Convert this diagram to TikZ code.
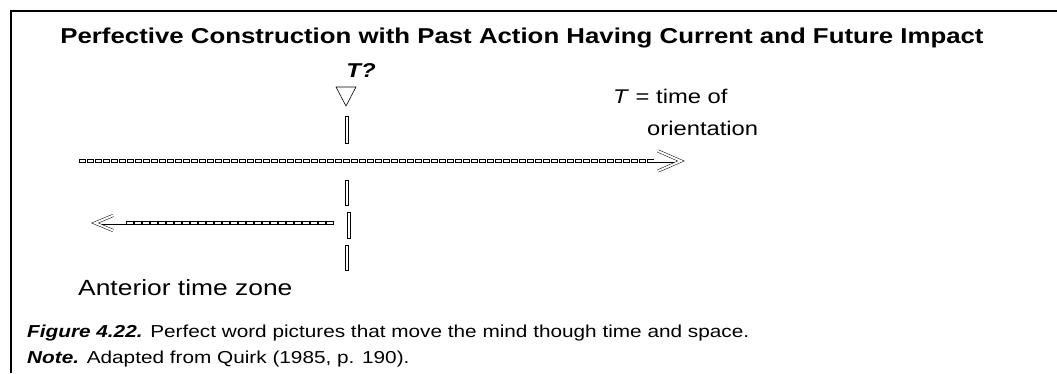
\documentclass[tikz,border=0pt]{standalone}
\usepackage{fontspec}
\setmainfont[FakeStretch=1.2]{Liberation Sans}
\usetikzlibrary{positioning,calc}

\tikzset{
  cell/.style={draw, line width=0.5pt},
  bar/.style={draw, line width=0.5pt, fill=white},
  stem/.style={double, double distance=2pt, line width=0.5pt},
  chevron/.style={double, double distance=2pt, line width=0.5pt, line join=miter},
}

\begin{document}
\begin{tikzpicture}[x=1pt, y=-1pt]
    \useasboundingbox (0,0) rectangle (1057,373);
    % frame
    \draw[line width=1.5pt] (11,373) -- (11,11) -- (1057,11);

    % title
    \node[font=\fontsize{21.5}{25}\selectfont\bfseries, anchor=base, inner sep=0pt] (title) at (522,43) {Perfective Construction with Past Action Having Current and Future Impact};
    \node[font=\fontsize{20}{24}\selectfont\bfseries\itshape, anchor=base, inner sep=0pt] (tq) at (361,77) {T?};
    \draw[line width=0.6pt] (336,87) -- (356,87) -- (346,106) -- cycle;

    % legend
    \node[font=\fontsize{19.8}{23}\selectfont, anchor=base west, inner sep=0pt] (tdef) at (613,103) {\textit{T} = time of};
    \node[font=\fontsize{19.8}{23}\selectfont, anchor=base west, inner sep=0pt] (orient) at (647,135) {orientation};

    % time of orientation
    \foreach \x/\ya/\yb in {347/116/143, 347/180/205, 349/212/238, 347/245/270}
        \draw[bar] ({\x-1.5},\ya) rectangle ({\x+1.5},\yb);

    % future line
    \coordinate (fut-start) at (79,161);
    \coordinate (fut-end) at (682,161);
    \foreach \i in {0,...,71}
        \draw[cell] ($(fut-start)+(8*\i,-1.5)$) rectangle ++(6.5,3);
    \draw[stem] ($(fut-start)+(574,0)$) -- ($(fut-end)+(-5,0)$);
    \draw[chevron] ($(fut-end)+(-24,-10)$) -- ($(fut-end)+(-1,0)$) -- ($(fut-end)+(-24,10)$);

    % anterior line
    \coordinate (ant-start) at (333,223);
    \coordinate (ant-end) at (94,223);
    \foreach \i in {0,...,25}
        \draw[cell] ($(ant-start)+(-8*\i,-1.5)$) rectangle ++(-6.5,3);
    \draw[stem] ($(ant-start)+(-207,0)$) -- ($(ant-end)+(4,0)$);
    \draw[chevron] ($(ant-end)+(19,-7.5)$) -- ($(ant-end)+(1,0)$) -- ($(ant-end)+(19,7.5)$);
    \node[font=\fontsize{22}{26}\selectfont, anchor=base west, inner sep=0pt] (zone) at (78,295) {Anterior time zone};

    % caption
    \node[font=\fontsize{17.3}{20}\selectfont, anchor=base west, inner sep=0pt] (fig) at (27,337) {\textbf{\textit{Figure 4.22.}} Perfect word pictures that move the mind though time and space.};
    \node[font=\fontsize{17.3}{20}\selectfont, anchor=base west, inner sep=0pt] (note) at (27,363) {\textbf{\textit{Note.}} Adapted from Quirk (1985, p. 190).};
\end{tikzpicture}
\end{document}
